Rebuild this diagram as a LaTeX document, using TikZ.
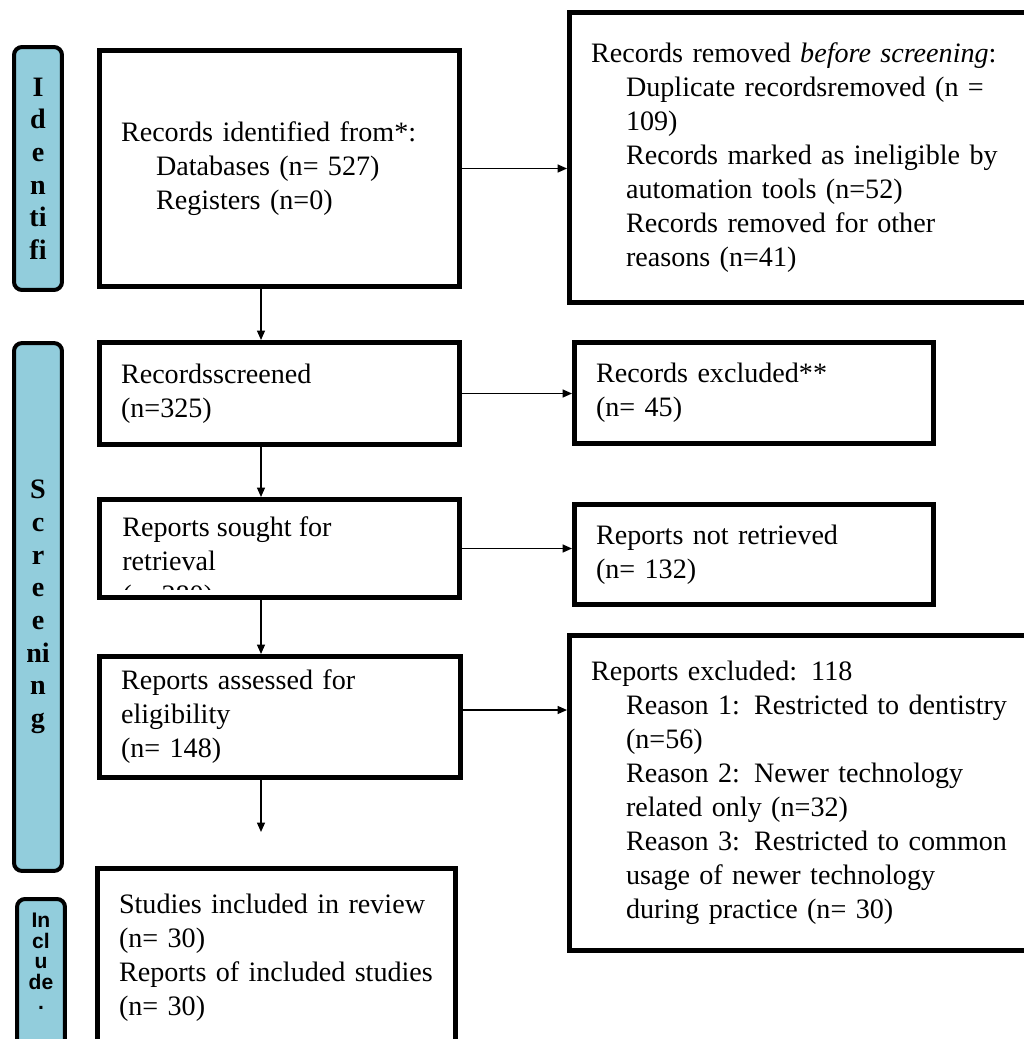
\documentclass[tikz,border=0pt]{standalone}
\usepackage{fontspec}
\setmainfont{Liberation Serif}
\newfontfamily\incfont{Liberation Sans}
\usetikzlibrary{arrows.meta}
\definecolor{bar}{HTML}{92CDDC}
\newcommand{\ind}{\hspace*{0.7cm}}
\newcommand{\boxfont}{\fontsize{16}{19.35}\selectfont}
\tikzset{
  box/.style={draw, line width=0.1cm, inner xsep=0.43cm, inner ysep=0pt, align=left, font=\boxfont},
  phase/.style={draw, line width=0.08cm, fill=bar, rounded corners=0.16cm, align=center, inner sep=0pt, minimum width=0.96cm, font=\bfseries\fontsize{16}{18.6}\selectfont},
  arr/.style={line width=0.03cm, -{Triangle[length=1.9mm, width=1.6mm]}}}

\begin{document}
\begin{tikzpicture}[x=0.02cm, y=-0.02cm]
\useasboundingbox (0,0) rectangle (1024,1039);
\clip (0,0) rectangle (1024,1039);
\node[phase, minimum height=4.86cm] (ida) at (38,168.5) {I\\d\\e\\n\\ti\\fi};
\node[phase, minimum height=10.56cm] (scr) at (38,607) {S\\c\\r\\e\\e\\ni\\n\\g};
\node[phase, minimum height=3.18cm] (inc) at (41,978.5) {};
\node[anchor=north, align=center, inner sep=0pt, font=\incfont\bfseries\fontsize{12}{11.6}\selectfont] (inct) at (41,913) {In\\cl\\u\\de\\.};
\node[box, text width=6.34cm, minimum height=4.72cm] (rid) at (279.5,168.5) {Records identified from*:\\\ind Databases (n= 527)\\\ind Registers (n=0)};
\node[box, text width=6.34cm, minimum height=2.04cm] (rsc) at (279.5,393.5) {Recordsscreened\\(n=325)};
\node[box, text width=6.34cm, minimum height=1.96cm] (rsr) at (279.5,548.5) {};
\begin{scope}
\clip (102,502) rectangle (457,589);
\node[anchor=north west, align=left, inner sep=0pt, font=\boxfont] (rsrt) at (122,516) {Reports sought for\\retrieval\\(n=280)};
\end{scope}
\node[box, text width=6.36cm, minimum height=2.42cm] (ras) at (280,717) {Reports assessed for\\eligibility\\(n= 148)};
\node[box, text width=6.30cm, minimum height=3.58cm] (sin) at (276.5,958) {Studies included in review\\(n= 30)\\Reports of included studies\\(n= 30)};
\node[box, text width=8.40cm, minimum height=5.8cm] (rrm) at (801,157.5) {Records removed \textit{before screening}:\\\ind Duplicate recordsremoved (n =\\\ind 109)\\\ind Records marked as ineligible by\\\ind automation tools (n=52)\\\ind Records removed for other\\\ind reasons (n=41)};
\node[box, text width=6.32cm, minimum height=2.02cm] (rex) at (754,393) {Records excluded**\\(n= 45)};
\node[box, text width=6.32cm, minimum height=2.0cm] (rnr) at (754,554.5) {Reports not retrieved\\(n= 132)};
\node[box, text width=8.40cm, minimum height=6.3cm] (rpx) at (801,793) {Reports excluded: 118\\\ind Reason 1: Restricted to dentistry\\\ind (n=56)\\\ind Reason 2: Newer technology\\\ind related only (n=32)\\\ind Reason 3: Restricted to common\\\ind usage of newer technology\\\ind during practice (n= 30)};
\coordinate (sp) at (261,0);
\coordinate (ae) at ([yshift=0.14cm]ras.east);
\coordinate (fe) at (261,832);
\draw[arr] (rid.south -| sp) -- (rsc.north -| sp);
\draw[arr] (rsc.south -| sp) -- (rsr.north -| sp);
\draw[arr] (rsr.south -| sp) -- (ras.north -| sp);
\draw[arr] (ras.south -| sp) -- (fe);
\draw[arr] (rid.east) -- (rid.east -| rrm.west);
\draw[arr] (rsc.east) -- (rsc.east -| rex.west);
\draw[arr] (rsr.east) -- (rsr.east -| rnr.west);
\draw[arr] (ae) -- (ae -| rpx.west);
\end{tikzpicture}
\end{document}
